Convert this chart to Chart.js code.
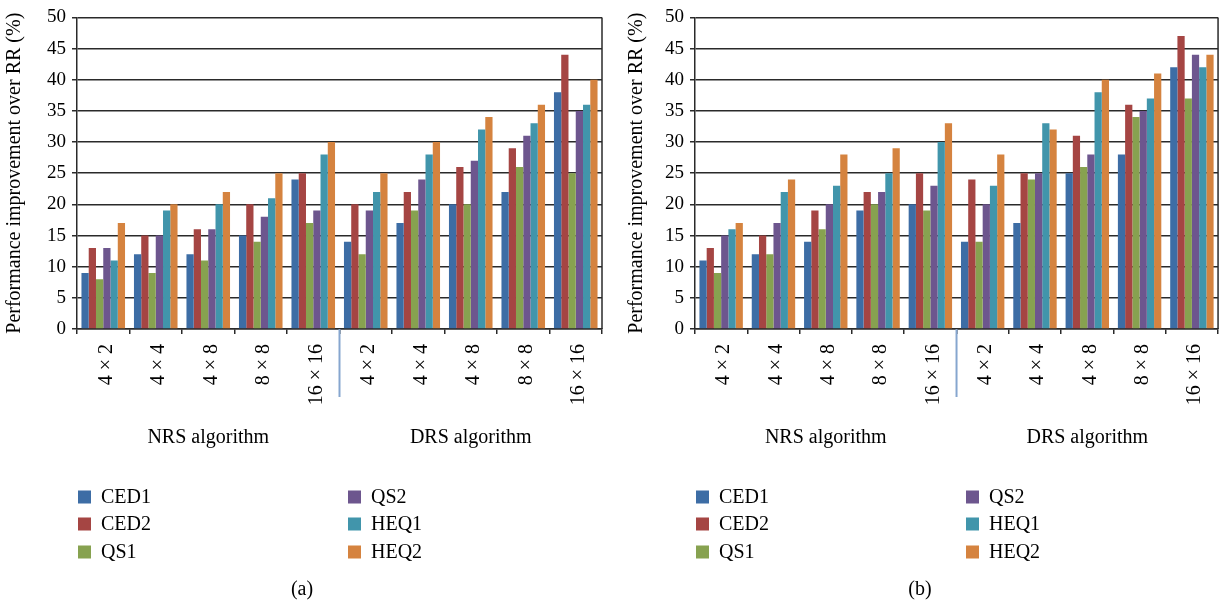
<!DOCTYPE html>
<html>
<head>
<meta charset="utf-8">
<script src="https://cdn.jsdelivr.net/npm/chart.js@4.4.1/dist/chart.umd.min.js"></script>
<style>
  html, body { margin: 0; padding: 0; background: #fff; }
  #wrap { position: relative; width: 1222px; height: 606px; overflow: hidden; }
  canvas { position: absolute; top: 0; }
  #ca { left: 0; }
  #cb { left: 611px; }
</style>
</head>
<body>
<div id="wrap">
  <canvas id="ca" width="611" height="606"></canvas>
  <canvas id="cb" width="615" height="606"></canvas>
</div>
<script>
// Mesh sizes, repeated for each routing algorithm
const categories = ['4 × 2', '4 × 4', '4 × 8', '8 × 8', '16 × 16',
                    '4 × 2', '4 × 4', '4 × 8', '8 × 8', '16 × 16'];
const groupLabels = ['NRS algorithm', 'DRS algorithm'];
const seriesNames = ['CED1', 'CED2', 'QS1', 'QS2', 'HEQ1', 'HEQ2'];
const seriesColors = ['#3d6da5', '#a54543', '#87a250', '#6d568e', '#4195ab', '#d5833f'];
const yTicks = { min: 0, max: 50, step: 5 };
const yTitle = 'Performance improvement over RR (%)';
const panelLabels = ['(a)', '(b)'];

// Panel (a)
const ced1A = [9, 12, 12, 15, 24, 14, 17, 20, 22, 38];
const ced2A = [13, 15, 16, 20, 25, 20, 22, 26, 29, 44];
const qs1A  = [8, 9, 11, 14, 17, 12, 19, 20, 26, 25];
const qs2A  = [13, 15, 16, 18, 19, 19, 24, 27, 31, 35];
const heq1A = [11, 19, 20, 21, 28, 22, 28, 32, 33, 36];
const heq2A = [17, 20, 22, 25, 30, 25, 30, 34, 36, 40];

// Panel (b)
const ced1B = [11, 12, 14, 19, 20, 14, 17, 25, 28, 42];
const ced2B = [13, 15, 19, 22, 25, 24, 25, 31, 36, 47];
const qs1B  = [9, 12, 16, 20, 19, 14, 24, 26, 34, 37];
const qs2B  = [15, 17, 20, 22, 23, 20, 25, 28, 35, 44];
const heq1B = [16, 22, 23, 25, 30, 23, 33, 38, 37, 42];
const heq2B = [17, 24, 28, 29, 33, 28, 32, 40, 41, 44];

const SERIF = '"Liberation Serif", "Times New Roman", serif';
Chart.defaults.font.family = SERIF;
Chart.defaults.color = '#000';

// Separator between the algorithm groups, group captions, two-column legend, panel caption
const decorPlugin = {
  id: 'decor',
  afterDraw(chart, args, opts) {
    const ctx = chart.ctx;
    const area = chart.chartArea;
    const x = chart.scales.x;
    ctx.save();

    // right border of the plot
    ctx.strokeStyle = '#2a2a2a';
    ctx.lineWidth = 1.5;
    ctx.beginPath();
    ctx.moveTo(area.right, area.top);
    ctx.lineTo(area.right, area.bottom);
    ctx.stroke();

    // group separator
    const sepX = (x.getPixelForValue(4) + x.getPixelForValue(5)) / 2;
    ctx.strokeStyle = '#86a6cf';
    ctx.lineWidth = 2;
    ctx.beginPath();
    ctx.moveTo(sepX, area.bottom);
    ctx.lineTo(sepX, area.bottom + 68);
    ctx.stroke();

    // group captions
    ctx.fillStyle = '#000';
    ctx.font = '20px ' + SERIF;
    ctx.textAlign = 'center';
    ctx.textBaseline = 'middle';
    ctx.fillText(groupLabels[0], (area.left + sepX) / 2, 438);
    ctx.fillText(groupLabels[1], (sepX + area.right) / 2, 438);

    // legend, filled column by column
    const rowsY = [497, 524, 552];
    const colX = [area.left + 1, area.left + 271];
    const ds = chart.data.datasets;
    ctx.textAlign = 'left';
    ds.forEach((d, i) => {
      const col = Math.floor(i / 3), row = i % 3;
      const sx = colX[col], cy = rowsY[row];
      ctx.fillStyle = d.backgroundColor;
      ctx.fillRect(sx, cy - 6.5, 13, 13);
      ctx.fillStyle = '#000';
      ctx.fillText(d.label, sx + 23, cy + 1);
    });

    // panel caption
    ctx.textAlign = 'center';
    ctx.fillText(opts.caption, area.left + 225, 590);
    ctx.restore();
  }
};

function makeChart(canvasId, values, caption, yAxisWidth, titlePad, rightPad) {
  return new Chart(document.getElementById(canvasId), {
    type: 'bar',
    data: {
      labels: categories,
      datasets: seriesNames.map((name, i) => ({
        label: name,
        data: values[i],
        backgroundColor: seriesColors[i],
        borderWidth: 0,
        categoryPercentage: 0.83,
        barPercentage: 1.0
      }))
    },
    options: {
      responsive: false,
      animation: false,
      layout: { padding: { top: 17, right: rightPad, left: 0, bottom: 0 } },
      plugins: {
        legend: { display: false },
        tooltip: { enabled: false },
        decor: { caption: caption }
      },
      scales: {
        x: {
          grid: { drawOnChartArea: false, tickLength: 5, color: '#2a2a2a', lineWidth: 1.5 },
          border: { color: '#2a2a2a', width: 1.5 },
          ticks: {
            autoSkip: false, minRotation: 90, maxRotation: 90,
            padding: 10, labelOffset: 3,
            font: { size: 20 }, color: '#000'
          },
          afterFit(scale) { scale.height = 277; }
        },
        y: {
          min: yTicks.min, max: yTicks.max,
          grid: { color: '#2a2a2a', lineWidth: 1.5, tickLength: 5 },
          border: { color: '#2a2a2a', width: 1.5 },
          ticks: { stepSize: yTicks.step, padding: 6, font: { size: 19 }, color: '#000' },
          title: { display: true, text: yTitle, font: { size: 20 }, color: '#000',
                   padding: { top: titlePad, bottom: 0 } },
          afterFit(scale) { scale.width = yAxisWidth; }
        }
      }
    },
    plugins: [decorPlugin]
  });
}

makeChart('ca', [ced1A, ced2A, qs1A, qs2A, heq1A, heq2A], panelLabels[0], 77, 3, 9);
makeChart('cb', [ced1B, ced2B, qs1B, qs2B, heq1B, heq2B], panelLabels[1], 84, 14, 2);
</script>
</body>
</html>
